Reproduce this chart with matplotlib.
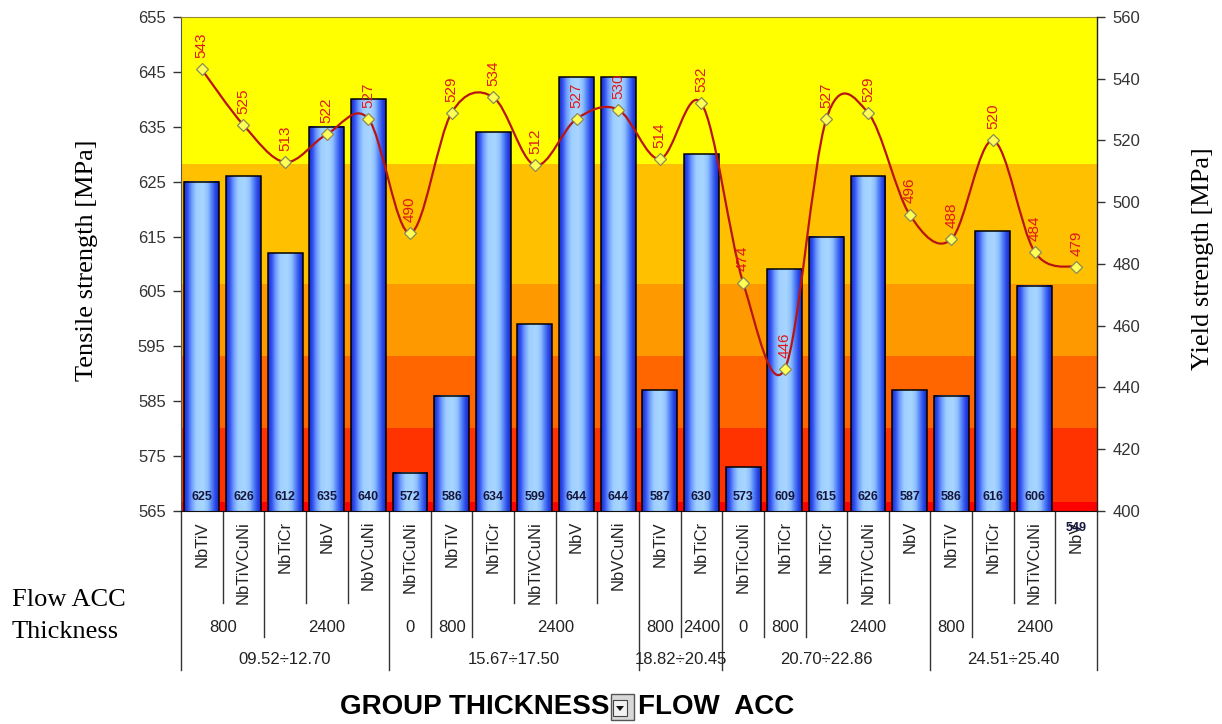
import numpy as np
import matplotlib
matplotlib.use('Agg')
import matplotlib.pyplot as plt
from matplotlib.colors import LinearSegmentedColormap
from matplotlib.transforms import blended_transform_factory
from matplotlib.path import Path
from matplotlib.patches import PathPatch, Rectangle, Polygon
from matplotlib.lines import Line2D

# ---------------- data ----------------
categories = ['NbTiV', 'NbTiVCuNi', 'NbTiCr', 'NbV', 'NbVCuNi',
              'NbTiCuNi', 'NbTiV', 'NbTiCr', 'NbTiVCuNi', 'NbV', 'NbVCuNi',
              'NbTiV', 'NbTiCr',
              'NbTiCuNi', 'NbTiCr', 'NbTiCr', 'NbTiVCuNi', 'NbV',
              'NbTiV', 'NbTiCr', 'NbTiVCuNi', 'NbV']
tensile = [625, 626, 612, 635, 640, 572, 586, 634, 599, 644, 644,
           587, 630, 573, 609, 615, 626, 587, 586, 616, 606, 549]
yield_strength = [543, 525, 513, 522, 527, 490, 529, 534, 512, 527, 530,
                  514, 532, 474, 446, 527, 529, 496, 488, 520, 484, 479]
flow_groups = [('800', 2), ('2400', 3), ('0', 1), ('800', 1), ('2400', 4),
               ('800', 1), ('2400', 1), ('0', 1), ('800', 1), ('2400', 3),
               ('800', 1), ('2400', 3)]
thick_groups = [('09.52÷12.70', 5), ('15.67÷17.50', 6), ('18.82÷20.45', 2),
                ('20.70÷22.86', 5), ('24.51÷25.40', 4)]
left_ticks = list(range(565, 656, 10))
right_ticks = list(range(400, 561, 20))
band_edges = [565, 566.7, 580.2, 593.3, 606.4, 628.2, 655]
band_colors = ['#FF0000', '#FF3300', '#FF6600', '#FF9900', '#FFC000', '#FFFF00']

SANS = ['Liberation Sans', 'DejaVu Sans']
SERIF = ['Liberation Serif', 'DejaVu Serif']
plt.rcParams['font.family'] = SANS

W, H = 1222, 724
fig = plt.figure(figsize=(W / 100, H / 100), dpi=100)
fig.patch.set_facecolor('white')
L, R, T, B = 181, 1097, 17, 511
ax = fig.add_axes([L / W, 1 - B / H, (R - L) / W, (B - T) / H])
ax2 = ax.twinx()

n = len(categories)
xpos = np.arange(n)
ymin, ymax = left_ticks[0], left_ticks[-1]

# background bands
for lo, hi, c in zip(band_edges[:-1], band_edges[1:], band_colors):
    ax.axhspan(lo, hi, facecolor=c, edgecolor='none', zorder=0)

# bars with gradient
grad_cmap = LinearSegmentedColormap.from_list('barblue', [
    (0.0, '#1a2ac0'), (0.1, '#2f4ff0'), (0.22, '#6f9cff'), (0.35, '#9fcfff'),
    (0.55, '#a8d6ff'), (0.68, '#8fc0ff'), (0.8, '#4f7ff5'), (0.9, '#2b47e6'),
    (1.0, '#1a2ac0')])
grad = np.linspace(0, 1, 256).reshape(1, -1)
bars = ax.bar(xpos, tensile, width=0.84, facecolor='none', edgecolor='black',
              linewidth=1.1, zorder=3)
for rect in bars:
    x0, w, h = rect.get_x(), rect.get_width(), rect.get_height()
    if h <= ymin:
        continue
    ax.imshow(grad, cmap=grad_cmap, extent=[x0, x0 + w, ymin, min(h, ymax)],
              aspect='auto', interpolation='bilinear', zorder=2)

ax.set_xlim(-0.5, n - 0.5)
ax.set_ylim(ymin, ymax)
ax.set_yticks(left_ticks)
ax.set_xticks([])

# bar value labels
for i, v in enumerate(tensile):
    off = 10 if v >= ymin else -12
    ax.annotate(str(v), (i, ymin), xytext=(0, off),
                textcoords='offset points', ha='center', va='center',
                fontsize=9, fontweight='bold', color='#15153f', zorder=6,
                annotation_clip=False)

# smoothed yield line
P = np.column_stack([xpos, yield_strength]).astype(float)
verts = [tuple(P[0])]
codes = [Path.MOVETO]
for i in range(n - 1):
    p0 = P[max(i - 1, 0)]
    p1 = P[i]
    p2 = P[i + 1]
    p3 = P[min(i + 2, n - 1)]
    c1 = p1 + (p2 - p0) / 6.0
    c2 = p2 - (p3 - p1) / 6.0
    verts += [tuple(c1), tuple(c2), tuple(p2)]
    codes += [Path.CURVE4] * 3
ax2.add_patch(PathPatch(Path(verts, codes), facecolor='none',
                        edgecolor='#B81414', linewidth=1.6, zorder=4))
ax2.plot(xpos, yield_strength, linestyle='none', marker='D', markersize=6.5,
         markerfacecolor='#FFFF55', markeredgecolor='#8a8a5a',
         markeredgewidth=0.9, zorder=5)
for i, v in enumerate(yield_strength):
    ax2.annotate(str(v), (i, v), xytext=(0, 8), textcoords='offset points',
                 rotation=90, ha='center', va='bottom', fontsize=11,
                 color='#E01818', zorder=6)
ax2.set_ylim(right_ticks[0], right_ticks[-1])
ax2.set_yticks(right_ticks)
ax2.set_xlim(-0.5, n - 0.5)

# spines / ticks
for s in ['left', 'right', 'top', 'bottom']:
    ax.spines[s].set_visible(False)
for s in ['left', 'top', 'bottom']:
    ax2.spines[s].set_visible(False)
ax2.spines['right'].set_color('#202020')
ax2.spines['right'].set_linewidth(1.0)
ax.spines['left'].set_visible(True)
ax.spines['left'].set_color('#555555')
ax.spines['bottom'].set_visible(True)
ax.spines['bottom'].set_color('#101010')
ax.spines['top'].set_visible(True)
ax.spines['top'].set_color('#9a8638')
ax.tick_params(axis='y', direction='out', length=6, width=1, pad=5,
               labelsize=12, labelcolor='#333333', color='#333333')
ax2.tick_params(axis='y', direction='out', length=6, width=1, pad=5,
                labelsize=12, labelcolor='#333333', color='#333333')

# axis titles
fig.text(87 / W, 1 - 260 / H, 'Tensile strength [MPa]', rotation=90,
         ha='center', va='center', fontsize=19, family=SERIF, color='black')
fig.text(1203 / W, 1 - 259 / H, 'Yield strength [MPa]', rotation=90,
         ha='center', va='center', fontsize=19, family=SERIF, color='black')

# multi-level category axis
bt = blended_transform_factory(ax.transData, ax.transAxes)
ax_h = B - T
def yf(py):
    return (B - py) / ax_h

y1_bot, y2_bot, y3_bot = yf(603), yf(637), yf(670)

lvl2_bounds = set()
c = 0
for _, k in flow_groups:
    c += k
    lvl2_bounds.add(c)
lvl3_bounds = set([0])
c = 0
for _, k in thick_groups:
    c += k
    lvl3_bounds.add(c)

for b in range(n + 1):
    if b in lvl3_bounds:
        yb = y3_bot
    elif b in lvl2_bounds:
        yb = y2_bot
    else:
        yb = y1_bot
    ax.add_line(Line2D([b - 0.5, b - 0.5], [0, yb], transform=bt,
                       color='#333333', linewidth=1.0, clip_on=False))

for i, name in enumerate(categories):
    ax.text(i, yf(521), name, rotation=90, ha='center', va='top',
            fontsize=12, color='#222222', transform=bt, clip_on=False)

start = 0
for lab, k in flow_groups:
    ax.text(start + k / 2 - 0.5, yf(627), lab, ha='center', va='center',
            fontsize=12, color='#222222', transform=bt, clip_on=False)
    start += k
start = 0
for lab, k in thick_groups:
    ax.text(start + k / 2 - 0.5, yf(660), lab, ha='center', va='center',
            fontsize=12, color='#222222', transform=bt, clip_on=False)
    start += k

fig.text(12 / W, 1 - 600 / H, 'Flow ACC', ha='left', va='center',
         fontsize=19, family=SERIF, color='black')
fig.text(12 / W, 1 - 632 / H, 'Thickness', ha='left', va='center',
         fontsize=19, family=SERIF, color='black')

# bottom title with drop-down button
ty = 1 - 707 / H
fig.text(610 / W, ty, 'GROUP THICKNESS', ha='right', va='center',
         fontsize=20, fontweight='bold', color='black')
fig.text(638 / W, ty, 'FLOW  ACC', ha='left', va='center',
         fontsize=20, fontweight='bold', color='black')
fig.patches.append(Rectangle((611 / W, 1 - 720 / H), 23 / W, 26 / H,
                             transform=fig.transFigure, facecolor='#d8d8d8',
                             edgecolor='#555555', linewidth=1.0))
fig.patches.append(Rectangle((613 / W, 1 - 716 / H), 14 / W, 16 / H,
                             transform=fig.transFigure, facecolor='#f2f2f2',
                             edgecolor='#444444', linewidth=0.8))
fig.patches.append(Polygon([(616 / W, 1 - 706 / H), (624 / W, 1 - 706 / H),
                            (620 / W, 1 - 711 / H)], closed=True,
                           transform=fig.transFigure, facecolor='#111111',
                           edgecolor='none'))

fig.savefig('out.png', dpi=100, facecolor='white')
